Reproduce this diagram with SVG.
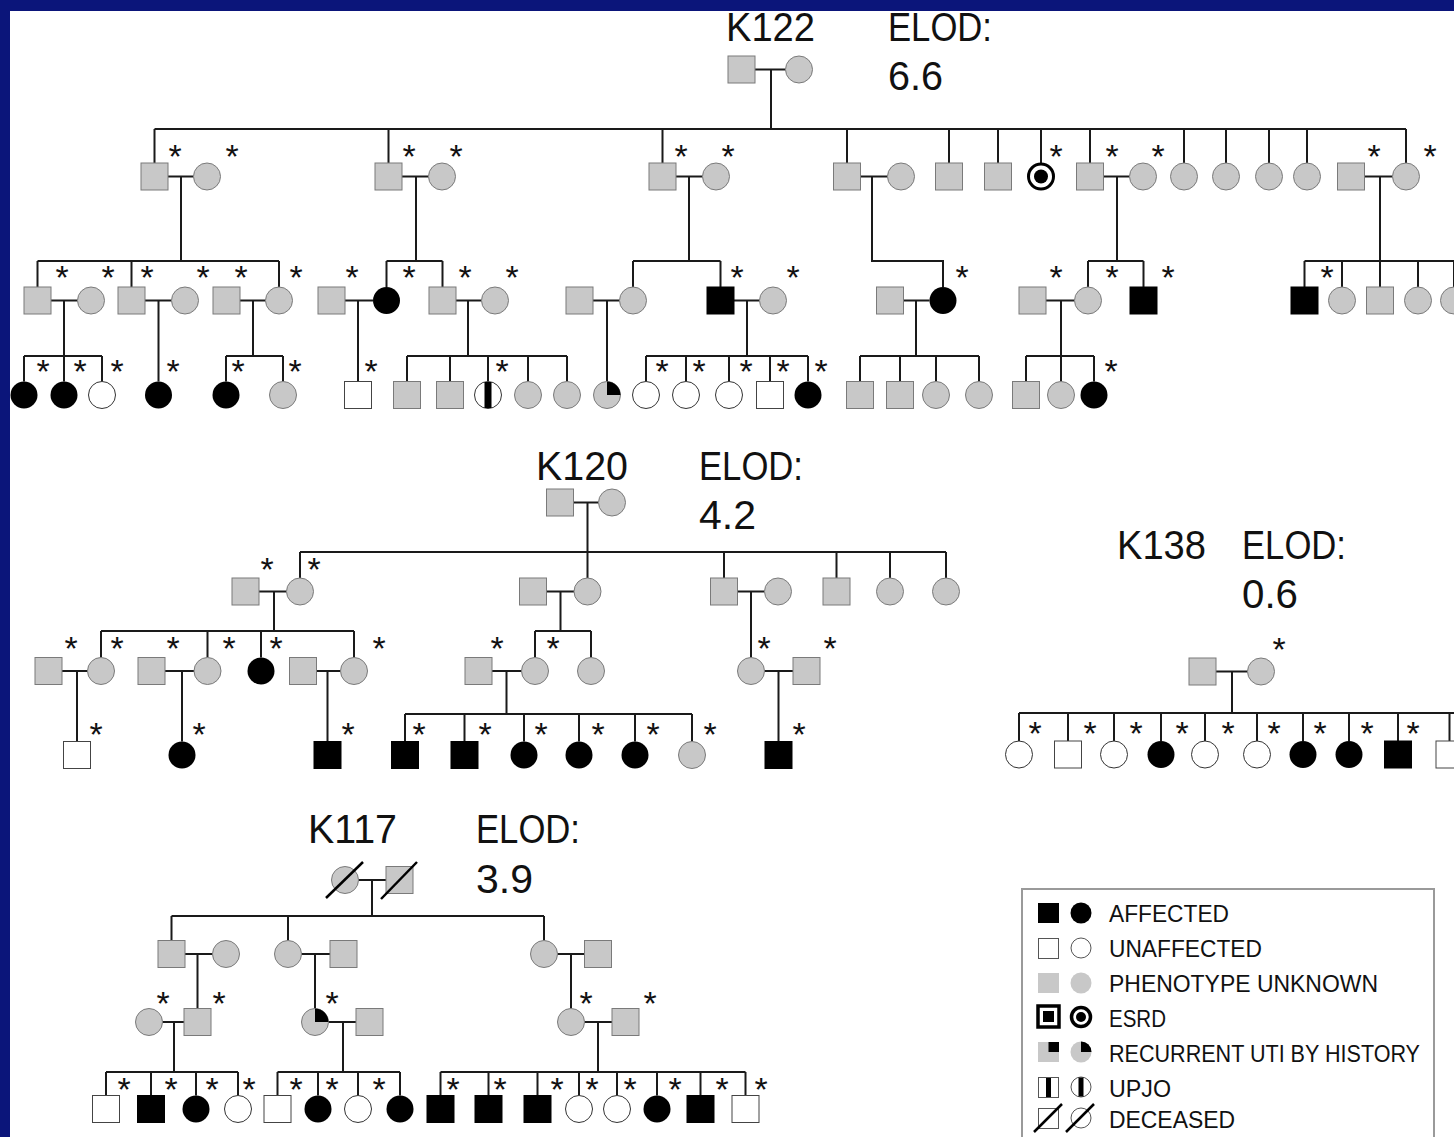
<svg xmlns="http://www.w3.org/2000/svg" xmlns:xlink="http://www.w3.org/1999/xlink" width="1454" height="1137" viewBox="0 0 1454 1137">
<style>
.ln{fill:none;stroke:#1a1a1a;stroke-width:2}
.t{font-family:"Liberation Sans",Arial,sans-serif;fill:#111;font-size:40px}
.lg{font-family:"Liberation Sans",Arial,sans-serif;fill:#111;font-size:24px}
.st{font-family:"Liberation Sans",Arial,sans-serif;font-size:34px;text-anchor:middle;fill:#111}
.sl{stroke:#000;stroke-width:2.5}
</style>
<defs>
<rect id="sg" x="-13.5" y="-13.5" width="27" height="27" fill="#c8c8c8" stroke="#7a7a7a" stroke-width="1"/>
<rect id="sb" x="-13.5" y="-13.5" width="27" height="27" fill="#000" stroke="#000" stroke-width="1"/>
<rect id="sw" x="-13.5" y="-13.5" width="27" height="27" fill="#fff" stroke="#444" stroke-width="1"/>
<circle id="cg" r="13.5" fill="#c8c8c8" stroke="#7a7a7a" stroke-width="1"/>
<circle id="cb" r="13.5" fill="#000"/>
<circle id="cw" r="13.5" fill="#fff" stroke="#333" stroke-width="1"/>
<g id="cupjo"><circle r="13.5" fill="#fff" stroke="#333" stroke-width="1"/><rect x="-3.5" y="-13" width="7" height="26" fill="#000"/></g>
<g id="cuti"><circle r="13.5" fill="#c8c8c8" stroke="#7a7a7a" stroke-width="1"/><path d="M0 0V-13.5A13.5 13.5 0 0 1 13.5 0Z" fill="#000"/></g>
<g id="cesrd"><circle r="12.5" fill="#fff" stroke="#000" stroke-width="3"/><circle r="7" fill="#000"/></g>
</defs>
<rect width="1454" height="1137" fill="#0b157a"/>
<rect x="10" y="11" width="1444" height="1126" fill="#fff"/>

<g id="connectors" class="ln">
<path id="k122-lines" d="M755 69.5H785.5M771 69.5V129M154.5 129H1406
M154.5 129V163M388.5 129V163M662.5 129V163M847 129V163M949 129V163M998 129V163M1041 129V163M1090 129V163M1184 129V163M1226 129V163M1269 129V163M1307 129V163M1406 129V163
M168 176.5H193.5M402 176.5H428.5M676 176.5H702.5M860.5 176.5H887.5M1103.5 176.5H1129.5M1364.5 176.5H1392.5
M181 176.5V261M416 176.5V261M689 176.5V261M872 176.5V261H943V287M1117 176.5V261M1380 176.5V261
M37.5 261H279M37.5 261V287M131.5 261V287M279 261V287
M386.5 261H442.5M386.5 261V287M442.5 261V287
M633 261H720.5M633 261V287M720.5 261V287
M1088 261H1143.5M1088 261V287M1143.5 261V287
M1304.5 261H1454M1304.5 261V287M1342 261V287M1380 261V287M1418 261V287M1454 261V287
M51 300.5H77.5M145 300.5H171.5M240 300.5H265.5M345 300.5H373M456 300.5H481.5M593 300.5H619.5M734 300.5H759.5M903.5 300.5H929.5M1046 300.5H1074.5
M64 300.5V356M158.5 300.5V381.5M253 300.5V356M358 300.5V381.5M468 300.5V356M607 300.5V381.5M747 300.5V356M916 300.5V356M1061 300.5V356
M24 356H102M24 356V381.5M64 356V381.5M102 356V381.5
M226 356H283M226 356V381.5M283 356V381.5
M407 356H567M407 356V381.5M450 356V381.5M488 356V381.5M528 356V381.5M567 356V381.5
M646 356H808M646 356V381.5M686 356V381.5M729 356V381.5M770 356V381.5M808 356V381.5
M860 356H979M860 356V381.5M900 356V381.5M936 356V381.5M979 356V381.5
M1026 356H1094M1026 356V381.5M1061 356V381.5M1094 356V381.5"/>
<path id="k120-lines" d="M573.5 502.5H598.5M587.5 502.5V578M300 552H946
M300 552V578M724 552V578M836.5 552V578M890 552V578M946 552V578
M259 591.5H286.5M546.5 591.5H574M737.5 591.5H764.5
M274 591.5V631M560.5 591.5V631M751 591.5V657.5
M101 631H354M101 631V657.5M207.5 631V657.5M261 631V657.5M354 631V657.5
M535 631H591M535 631V657.5M591 631V657.5
M62 671H87.5M165 671H194M316.5 671H340.5M492 671H521.5M764.5 671H793
M77 671V741.5M182 671V741.5M327.5 671V741.5M506.5 671V714M778.5 671V741.5
M405 714H692M405 714V741.5M464.5 714V741.5M524 714V741.5M579 714V741.5M635 714V741.5M692 714V741.5"/>
<path id="k138-lines" d="M1216 671.5H1247.5M1232 671.5V713M1019 713H1454
M1019 713V741M1068 713V741M1114 713V741M1161 713V741M1205 713V741M1257 713V741M1303 713V741M1349 713V741M1398 713V741M1449.5 713V741"/>
<path id="k117-lines" d="M358.5 880H386M372 880V916M171.5 916H544
M171.5 916V940.5M288 916V940.5M544 916V940.5
M185 954H212.5M301.5 954H330M557.5 954H584
M197.5 954V1008.5M315 954V1008.5M571 954V1008.5
M162.5 1022H184M328.5 1022H356M584.5 1022H612
M174 1022V1072M343 1022V1072M598 1022V1072
M106 1072H238M106 1072V1095.5M151 1072V1095.5M196 1072V1095.5M238 1072V1095.5
M277.5 1072H400M277.5 1072V1095.5M318 1072V1095.5M358 1072V1095.5M400 1072V1095.5
M440.5 1072H745.5M440.5 1072V1095.5M488.5 1072V1095.5M537.5 1072V1095.5M579 1072V1095.5M617 1072V1095.5M657 1072V1095.5M700.5 1072V1095.5M745.5 1072V1095.5"/>
</g>

<g id="k122">
<text class="t" x="726" y="41" textLength="89" lengthAdjust="spacingAndGlyphs">K122</text>
<text class="t" x="888" y="41" textLength="104" lengthAdjust="spacingAndGlyphs">ELOD:</text>
<text class="t" x="888" y="90" textLength="55" lengthAdjust="spacingAndGlyphs">6.6</text>
<g id="k122-i1"><use href="#sg" x="741.5" y="69.5"/></g>
<g id="k122-i2"><use href="#cg" x="799" y="69.5"/></g>
<g id="k122-ii1"><use href="#sg" x="154.5" y="176.5"/></g>
<g id="k122-ii2"><use href="#cg" x="207" y="176.5"/></g>
<g id="k122-ii3"><use href="#sg" x="388.5" y="176.5"/></g>
<g id="k122-ii4"><use href="#cg" x="442" y="176.5"/></g>
<g id="k122-ii5"><use href="#sg" x="662.5" y="176.5"/></g>
<g id="k122-ii6"><use href="#cg" x="716" y="176.5"/></g>
<g id="k122-ii7"><use href="#sg" x="847" y="176.5"/></g>
<g id="k122-ii8"><use href="#cg" x="901" y="176.5"/></g>
<g id="k122-ii9"><use href="#sg" x="949" y="176.5"/></g>
<g id="k122-ii10"><use href="#sg" x="998" y="176.5"/></g>
<g id="k122-ii11"><use href="#cesrd" x="1041" y="176.5"/></g>
<g id="k122-ii12"><use href="#sg" x="1090" y="176.5"/></g>
<g id="k122-ii13"><use href="#cg" x="1143" y="176.5"/></g>
<g id="k122-ii14"><use href="#cg" x="1184" y="176.5"/></g>
<g id="k122-ii15"><use href="#cg" x="1226" y="176.5"/></g>
<g id="k122-ii16"><use href="#cg" x="1269" y="176.5"/></g>
<g id="k122-ii17"><use href="#cg" x="1307" y="176.5"/></g>
<g id="k122-ii18"><use href="#sg" x="1351" y="176.5"/></g>
<g id="k122-ii19"><use href="#cg" x="1406" y="176.5"/></g>
<g id="k122-iii1"><use href="#sg" x="37.5" y="300.5"/></g>
<g id="k122-iii2"><use href="#cg" x="91" y="300.5"/></g>
<g id="k122-iii3"><use href="#sg" x="131.5" y="300.5"/></g>
<g id="k122-iii4"><use href="#cg" x="185" y="300.5"/></g>
<g id="k122-iii5"><use href="#sg" x="226.5" y="300.5"/></g>
<g id="k122-iii6"><use href="#cg" x="279" y="300.5"/></g>
<g id="k122-iii7"><use href="#sg" x="331.5" y="300.5"/></g>
<g id="k122-iii8"><use href="#cb" x="386.5" y="300.5"/></g>
<g id="k122-iii9"><use href="#sg" x="442.5" y="300.5"/></g>
<g id="k122-iii10"><use href="#cg" x="495" y="300.5"/></g>
<g id="k122-iii11"><use href="#sg" x="579.5" y="300.5"/></g>
<g id="k122-iii12"><use href="#cg" x="633" y="300.5"/></g>
<g id="k122-iii13"><use href="#sb" x="720.5" y="300.5"/></g>
<g id="k122-iii14"><use href="#cg" x="773" y="300.5"/></g>
<g id="k122-iii15"><use href="#sg" x="890" y="300.5"/></g>
<g id="k122-iii16"><use href="#cb" x="943" y="300.5"/></g>
<g id="k122-iii17"><use href="#sg" x="1032.5" y="300.5"/></g>
<g id="k122-iii18"><use href="#cg" x="1088" y="300.5"/></g>
<g id="k122-iii19"><use href="#sb" x="1143.5" y="300.5"/></g>
<g id="k122-iii20"><use href="#sb" x="1304.5" y="300.5"/></g>
<g id="k122-iii21"><use href="#cg" x="1342" y="300.5"/></g>
<g id="k122-iii22"><use href="#sg" x="1380" y="300.5"/></g>
<g id="k122-iii23"><use href="#cg" x="1418" y="300.5"/></g>
<g id="k122-iii24"><use href="#cg" x="1454" y="300.5"/></g>
<g id="k122-iv1"><use href="#cb" x="24" y="395"/></g>
<g id="k122-iv2"><use href="#cb" x="64" y="395"/></g>
<g id="k122-iv3"><use href="#cw" x="102" y="395"/></g>
<g id="k122-iv4"><use href="#cb" x="158.5" y="395"/></g>
<g id="k122-iv5"><use href="#cb" x="226" y="395"/></g>
<g id="k122-iv6"><use href="#cg" x="283" y="395"/></g>
<g id="k122-iv7"><use href="#sw" x="358" y="395"/></g>
<g id="k122-iv8"><use href="#sg" x="407" y="395"/></g>
<g id="k122-iv9"><use href="#sg" x="450" y="395"/></g>
<g id="k122-iv10"><use href="#cupjo" x="488" y="395"/></g>
<g id="k122-iv11"><use href="#cg" x="528" y="395"/></g>
<g id="k122-iv12"><use href="#cg" x="567" y="395"/></g>
<g id="k122-iv13"><use href="#cuti" x="607" y="395"/></g>
<g id="k122-iv14"><use href="#cw" x="646" y="395"/></g>
<g id="k122-iv15"><use href="#cw" x="686" y="395"/></g>
<g id="k122-iv16"><use href="#cw" x="729" y="395"/></g>
<g id="k122-iv17"><use href="#sw" x="770" y="395"/></g>
<g id="k122-iv18"><use href="#cb" x="808" y="395"/></g>
<g id="k122-iv19"><use href="#sg" x="860" y="395"/></g>
<g id="k122-iv20"><use href="#sg" x="900" y="395"/></g>
<g id="k122-iv21"><use href="#cg" x="936" y="395"/></g>
<g id="k122-iv22"><use href="#cg" x="979" y="395"/></g>
<g id="k122-iv23"><use href="#sg" x="1026" y="395"/></g>
<g id="k122-iv24"><use href="#cg" x="1061" y="395"/></g>
<g id="k122-iv25"><use href="#cb" x="1094" y="395"/></g>
<g id="k122-stars">
<text class="st" x="175" y="168">*</text><text class="st" x="232" y="168">*</text><text class="st" x="409" y="168">*</text><text class="st" x="456" y="168">*</text><text class="st" x="681" y="168">*</text><text class="st" x="728" y="168">*</text><text class="st" x="1056" y="168">*</text><text class="st" x="1112" y="168">*</text><text class="st" x="1158" y="168">*</text><text class="st" x="1374" y="168">*</text><text class="st" x="1430" y="168">*</text>
<text class="st" x="62" y="289">*</text><text class="st" x="108" y="289">*</text><text class="st" x="147" y="289">*</text><text class="st" x="203" y="289">*</text><text class="st" x="241" y="289">*</text><text class="st" x="296" y="289">*</text><text class="st" x="352" y="289">*</text><text class="st" x="409" y="289">*</text><text class="st" x="465" y="289">*</text><text class="st" x="512" y="289">*</text><text class="st" x="737" y="289">*</text><text class="st" x="793" y="289">*</text><text class="st" x="962" y="289">*</text><text class="st" x="1056" y="289">*</text><text class="st" x="1112" y="289">*</text><text class="st" x="1168" y="289">*</text><text class="st" x="1327" y="289">*</text>
<text class="st" x="43" y="383">*</text><text class="st" x="80" y="383">*</text><text class="st" x="117" y="383">*</text><text class="st" x="173" y="383">*</text><text class="st" x="238" y="383">*</text><text class="st" x="295" y="383">*</text><text class="st" x="371" y="383">*</text><text class="st" x="502" y="383">*</text><text class="st" x="662" y="383">*</text><text class="st" x="699" y="383">*</text><text class="st" x="746" y="383">*</text><text class="st" x="783" y="383">*</text><text class="st" x="821" y="383">*</text><text class="st" x="1111" y="383">*</text>
</g>
</g>

<g id="k120">
<text class="t" x="536" y="480" textLength="92" lengthAdjust="spacingAndGlyphs">K120</text>
<text class="t" x="699" y="480" textLength="104" lengthAdjust="spacingAndGlyphs">ELOD:</text>
<text class="t" x="699" y="529" textLength="57" lengthAdjust="spacingAndGlyphs">4.2</text>
<g id="k120-i1"><use href="#sg" x="560" y="502.5"/></g>
<g id="k120-i2"><use href="#cg" x="612" y="502.5"/></g>
<g id="k120-ii1"><use href="#sg" x="245.5" y="591.5"/></g>
<g id="k120-ii2"><use href="#cg" x="300" y="591.5"/></g>
<g id="k120-ii3"><use href="#sg" x="533" y="591.5"/></g>
<g id="k120-ii4"><use href="#cg" x="587.5" y="591.5"/></g>
<g id="k120-ii5"><use href="#sg" x="724" y="591.5"/></g>
<g id="k120-ii6"><use href="#cg" x="778" y="591.5"/></g>
<g id="k120-ii7"><use href="#sg" x="836.5" y="591.5"/></g>
<g id="k120-ii8"><use href="#cg" x="890" y="591.5"/></g>
<g id="k120-ii9"><use href="#cg" x="946" y="591.5"/></g>
<g id="k120-iii1"><use href="#sg" x="48.5" y="671"/></g>
<g id="k120-iii2"><use href="#cg" x="101" y="671"/></g>
<g id="k120-iii3"><use href="#sg" x="151.5" y="671"/></g>
<g id="k120-iii4"><use href="#cg" x="207.5" y="671"/></g>
<g id="k120-iii5"><use href="#cb" x="261" y="671"/></g>
<g id="k120-iii6"><use href="#sg" x="303" y="671"/></g>
<g id="k120-iii7"><use href="#cg" x="354" y="671"/></g>
<g id="k120-iii8"><use href="#sg" x="478.5" y="671"/></g>
<g id="k120-iii9"><use href="#cg" x="535" y="671"/></g>
<g id="k120-iii10"><use href="#cg" x="591" y="671"/></g>
<g id="k120-iii11"><use href="#cg" x="751" y="671"/></g>
<g id="k120-iii12"><use href="#sg" x="806.5" y="671"/></g>
<g id="k120-iv1"><use href="#sw" x="77" y="755"/></g>
<g id="k120-iv2"><use href="#cb" x="182" y="755"/></g>
<g id="k120-iv3"><use href="#sb" x="327.5" y="755"/></g>
<g id="k120-iv4"><use href="#sb" x="405" y="755"/></g>
<g id="k120-iv5"><use href="#sb" x="464.5" y="755"/></g>
<g id="k120-iv6"><use href="#cb" x="524" y="755"/></g>
<g id="k120-iv7"><use href="#cb" x="579" y="755"/></g>
<g id="k120-iv8"><use href="#cb" x="635" y="755"/></g>
<g id="k120-iv9"><use href="#cg" x="692" y="755"/></g>
<g id="k120-iv10"><use href="#sb" x="778.5" y="755"/></g>
<g id="k120-stars">
<text class="st" x="267" y="581">*</text><text class="st" x="314" y="581">*</text>
<text class="st" x="71" y="660">*</text><text class="st" x="117" y="660">*</text><text class="st" x="173" y="660">*</text><text class="st" x="229" y="660">*</text><text class="st" x="276" y="660">*</text><text class="st" x="379" y="660">*</text><text class="st" x="497" y="660">*</text><text class="st" x="553" y="660">*</text><text class="st" x="764" y="660">*</text><text class="st" x="830" y="660">*</text>
<text class="st" x="96" y="746">*</text><text class="st" x="199" y="746">*</text><text class="st" x="348" y="746">*</text><text class="st" x="419" y="746">*</text><text class="st" x="485" y="746">*</text><text class="st" x="541" y="746">*</text><text class="st" x="598" y="746">*</text><text class="st" x="653" y="746">*</text><text class="st" x="710" y="746">*</text><text class="st" x="799" y="746">*</text>
</g>
</g>

<g id="k138">
<text class="t" x="1117" y="559" textLength="89" lengthAdjust="spacingAndGlyphs">K138</text>
<text class="t" x="1242" y="559" textLength="104" lengthAdjust="spacingAndGlyphs">ELOD:</text>
<text class="t" x="1242" y="608" textLength="56" lengthAdjust="spacingAndGlyphs">0.6</text>
<g id="k138-i1"><use href="#sg" x="1202.5" y="671.5"/></g>
<g id="k138-i2"><use href="#cg" x="1261" y="671.5"/></g>
<g id="k138-ii1"><use href="#cw" x="1019" y="754.5"/></g>
<g id="k138-ii2"><use href="#sw" x="1068" y="754.5"/></g>
<g id="k138-ii3"><use href="#cw" x="1114" y="754.5"/></g>
<g id="k138-ii4"><use href="#cb" x="1161" y="754.5"/></g>
<g id="k138-ii5"><use href="#cw" x="1205" y="754.5"/></g>
<g id="k138-ii6"><use href="#cw" x="1257" y="754.5"/></g>
<g id="k138-ii7"><use href="#cb" x="1303" y="754.5"/></g>
<g id="k138-ii8"><use href="#cb" x="1349" y="754.5"/></g>
<g id="k138-ii9"><use href="#sb" x="1398" y="754.5"/></g>
<g id="k138-ii10"><use href="#sw" x="1449.5" y="754.5"/></g>
<g id="k138-stars">
<text class="st" x="1279" y="661">*</text>
<text class="st" x="1035" y="745">*</text><text class="st" x="1090" y="745">*</text><text class="st" x="1136" y="745">*</text><text class="st" x="1182" y="745">*</text><text class="st" x="1228" y="745">*</text><text class="st" x="1274" y="745">*</text><text class="st" x="1320" y="745">*</text><text class="st" x="1367" y="745">*</text><text class="st" x="1413" y="745">*</text>
</g>
</g>

<g id="k117">
<text class="t" x="308" y="843" textLength="89" lengthAdjust="spacingAndGlyphs">K117</text>
<text class="t" x="476" y="843" textLength="104" lengthAdjust="spacingAndGlyphs">ELOD:</text>
<text class="t" x="476" y="893" textLength="57" lengthAdjust="spacingAndGlyphs">3.9</text>
<g id="k117-i1"><use href="#cg" x="345" y="880"/><line class="sl" x1="326" y1="898" x2="363" y2="862"/></g>
<g id="k117-i2"><use href="#sg" x="399.5" y="880"/><line class="sl" x1="381" y1="899" x2="417" y2="862"/></g>
<g id="k117-ii1"><use href="#sg" x="171.5" y="954"/></g>
<g id="k117-ii2"><use href="#cg" x="226" y="954"/></g>
<g id="k117-ii3"><use href="#cg" x="288" y="954"/></g>
<g id="k117-ii4"><use href="#sg" x="343.5" y="954"/></g>
<g id="k117-ii5"><use href="#cg" x="544" y="954"/></g>
<g id="k117-ii6"><use href="#sg" x="598" y="954"/></g>
<g id="k117-iii1"><use href="#cg" x="149" y="1022"/></g>
<g id="k117-iii2"><use href="#sg" x="197.5" y="1022"/></g>
<g id="k117-iii3"><use href="#cuti" x="315" y="1022"/></g>
<g id="k117-iii4"><use href="#sg" x="369.5" y="1022"/></g>
<g id="k117-iii5"><use href="#cg" x="571" y="1022"/></g>
<g id="k117-iii6"><use href="#sg" x="625.5" y="1022"/></g>
<g id="k117-iv1"><use href="#sw" x="106" y="1109"/></g>
<g id="k117-iv2"><use href="#sb" x="151" y="1109"/></g>
<g id="k117-iv3"><use href="#cb" x="196" y="1109"/></g>
<g id="k117-iv4"><use href="#cw" x="238" y="1109"/></g>
<g id="k117-iv5"><use href="#sw" x="277.5" y="1109"/></g>
<g id="k117-iv6"><use href="#cb" x="318" y="1109"/></g>
<g id="k117-iv7"><use href="#cw" x="358" y="1109"/></g>
<g id="k117-iv8"><use href="#cb" x="400" y="1109"/></g>
<g id="k117-iv9"><use href="#sb" x="440.5" y="1109"/></g>
<g id="k117-iv10"><use href="#sb" x="488.5" y="1109"/></g>
<g id="k117-iv11"><use href="#sb" x="537.5" y="1109"/></g>
<g id="k117-iv12"><use href="#cw" x="579" y="1109"/></g>
<g id="k117-iv13"><use href="#cw" x="617" y="1109"/></g>
<g id="k117-iv14"><use href="#cb" x="657" y="1109"/></g>
<g id="k117-iv15"><use href="#sb" x="700.5" y="1109"/></g>
<g id="k117-iv16"><use href="#sw" x="745.5" y="1109"/></g>
<g id="k117-stars">
<text class="st" x="163" y="1015">*</text><text class="st" x="219" y="1015">*</text><text class="st" x="332" y="1015">*</text><text class="st" x="586" y="1015">*</text><text class="st" x="650" y="1015">*</text>
<text class="st" x="124" y="1101">*</text><text class="st" x="171" y="1101">*</text><text class="st" x="212" y="1101">*</text><text class="st" x="249" y="1101">*</text><text class="st" x="296" y="1101">*</text><text class="st" x="332" y="1101">*</text><text class="st" x="379" y="1101">*</text><text class="st" x="453" y="1101">*</text><text class="st" x="500" y="1101">*</text><text class="st" x="557" y="1101">*</text><text class="st" x="592" y="1101">*</text><text class="st" x="630" y="1101">*</text><text class="st" x="675" y="1101">*</text><text class="st" x="722" y="1101">*</text><text class="st" x="761" y="1101">*</text>
</g>
</g>

<g id="legend">
<rect x="1022" y="889" width="412" height="262" fill="none" stroke="#9a9a9a" stroke-width="2"/>
<g id="leg-affected">
<rect x="1038" y="903" width="21" height="20" fill="#000"/><circle cx="1081" cy="913" r="10.5" fill="#000"/>
<text class="lg" x="1109" y="922" textLength="120" lengthAdjust="spacingAndGlyphs">AFFECTED</text>
</g>
<g id="leg-unaffected">
<rect x="1038.5" y="938.5" width="20" height="20" fill="#fff" stroke="#555" stroke-width="1"/><circle cx="1081" cy="948" r="10" fill="#fff" stroke="#555" stroke-width="1"/>
<text class="lg" x="1109" y="957" textLength="153" lengthAdjust="spacingAndGlyphs">UNAFFECTED</text>
</g>
<g id="leg-unknown">
<rect x="1038" y="973" width="21" height="20" fill="#c8c8c8"/><circle cx="1081" cy="983" r="10.5" fill="#c8c8c8"/>
<text class="lg" x="1109" y="992" textLength="269" lengthAdjust="spacingAndGlyphs">PHENOTYPE UNKNOWN</text>
</g>
<g id="leg-esrd">
<rect x="1038" y="1006" width="21" height="21" fill="#fff" stroke="#000" stroke-width="3.5"/><rect x="1043" y="1011" width="11" height="11" fill="#000"/>
<circle cx="1081" cy="1017" r="9.5" fill="#fff" stroke="#000" stroke-width="3.5"/><circle cx="1081" cy="1017" r="5" fill="#000"/>
<text class="lg" x="1109" y="1027" textLength="57" lengthAdjust="spacingAndGlyphs">ESRD</text>
</g>
<g id="leg-uti">
<rect x="1038" y="1042" width="21" height="20" fill="#c8c8c8"/><rect x="1048.5" y="1042" width="10.5" height="10" fill="#000"/>
<circle cx="1081" cy="1052" r="10.5" fill="#c8c8c8"/><path d="M1081 1052V1041.5A10.5 10.5 0 0 1 1091.5 1052Z" fill="#000"/>
<text class="lg" x="1109" y="1062" textLength="311" lengthAdjust="spacingAndGlyphs">RECURRENT UTI BY HISTORY</text>
</g>
<g id="leg-upjo">
<rect x="1038.5" y="1077.5" width="20" height="20" fill="#fff" stroke="#555" stroke-width="1"/><rect x="1046" y="1078" width="5" height="19" fill="#000"/>
<circle cx="1081" cy="1087" r="10" fill="#fff" stroke="#555" stroke-width="1"/><rect x="1078.5" y="1077.5" width="5" height="19" fill="#000"/>
<text class="lg" x="1109" y="1097" textLength="62" lengthAdjust="spacingAndGlyphs">UPJO</text>
</g>
<g id="leg-deceased">
<rect x="1038.5" y="1108.5" width="20" height="20" fill="#fff" stroke="#555" stroke-width="1"/><line class="sl" x1="1034" y1="1132" x2="1062" y2="1104"/>
<circle cx="1081" cy="1118" r="10" fill="#fff" stroke="#555" stroke-width="1"/><line class="sl" x1="1066" y1="1132" x2="1094" y2="1104"/>
<text class="lg" x="1109" y="1128" textLength="126" lengthAdjust="spacingAndGlyphs">DECEASED</text>
</g>
</g>
</svg>
